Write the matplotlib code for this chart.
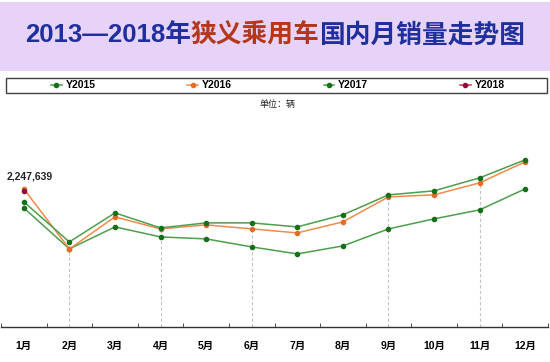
import numpy as np
import matplotlib
matplotlib.use("Agg")
import matplotlib.pyplot as plt
from matplotlib.patches import Rectangle

plt.rcParams['font.family'] = ['Liberation Sans', 'Noto Sans CJK SC', 'DejaVu Sans']

months = ["1月", "2月", "3月", "4月", "5月", "6月", "7月", "8月", "9月", "10月", "11月", "12月"]
series_names = ["Y2015", "Y2016", "Y2017", "Y2018"]
y2015 = [1966700, 1289100, 1652700, 1487400, 1454400, 1322200, 1206500, 1338700, 1619600, 1784900, 1933700, 2280700]
y2016 = [2280700, 1289100, 1818000, 1619600, 1685800, 1619600, 1553500, 1735300, 2148500, 2181600, 2379900, 2727000]
y2017 = [2065900, 1404800, 1884100, 1636200, 1718800, 1718800, 1652700, 1851000, 2181600, 2247700, 2462500, 2760000]
y2018 = [2247639] + [np.nan] * 11
drop_months = ["2月", "4月", "6月", "9月", "11月"]

title_parts = [("2013—2018年", "#1f2f9e"), ("狭义乘用车", "#b5361a"), ("国内月销量走势图", "#1f2f9e")]
unit_text = "单位：辆"

W, H = 550, 362
fig = plt.figure(figsize=(W / 100, H / 100), dpi=100)
fig.patch.set_facecolor("white")

# lavender title band
fig.patches.append(Rectangle((0, 1 - 71 / H), 1, 69 / H, transform=fig.transFigure,
                             facecolor="#E6D3F7", edgecolor="none", zorder=0))

# multi-colour title
fig.canvas.draw()
renderer = fig.canvas.get_renderer()
fs_title = 18.5
texts = []
x0 = 22 / W
y0 = 1 - 35 / H
prev = None
for s, c in title_parts:
    if prev is None:
        t = fig.text(x0, y0, s, color=c, fontsize=fs_title, fontweight="bold", va="center", ha="left")
    else:
        t = fig.text(0, 0, s, color=c, fontsize=fs_title, fontweight="bold", va="center", ha="left")
        bb = prev.get_window_extent(renderer)
        t.set_position((bb.x1 / W, y0))
    fig.canvas.draw()
    prev = t
    texts.append(t)
total_left = texts[0].get_window_extent(renderer).x0
total_right = texts[-1].get_window_extent(renderer).x1
shift = (W / 2 - (total_left + total_right) / 2) / W
for t in texts:
    xx, yy = t.get_position()
    t.set_position((xx + shift, yy))

# axes
ax = fig.add_axes([1 / W, 1 - 327 / H, 547 / W, 212 / H])
ax.set_facecolor("none")
x = np.arange(len(months))

green_line, green_mk = "#4c9f4c", "#16701a"
orange_line, orange_mk = "#f28a4b", "#e86b25"
red_line, red_mk = "#d6304a", "#8a1040"

di = [months.index(m) for m in drop_months]
ax.vlines(x[di], 0, np.array(y2016)[di], colors="#c4c4c4", linestyles=(0, (3, 2)), lw=0.8, zorder=1)

l15, = ax.plot(x, y2015, color=green_line, lw=1.1, marker="o", ms=3, mfc=green_mk, mec=green_mk, zorder=3, clip_on=False)
l16, = ax.plot(x, y2016, color=orange_line, lw=1.1, marker="o", ms=3, mfc=orange_mk, mec=orange_mk, zorder=3, clip_on=False)
l17, = ax.plot(x, y2017, color=green_line, lw=1.1, marker="o", ms=3, mfc=green_mk, mec=green_mk, zorder=4, clip_on=False)
l18, = ax.plot(x, y2018, color=red_line, lw=1.1, marker="o", ms=3, mfc=red_mk, mec=red_mk, zorder=5, clip_on=False)

ax.annotate(f"{y2018[0]:,}", (x[0], y2018[0]), xytext=(4.5, 10.5), textcoords="offset points",
            ha="center", va="center", fontsize=7.5, fontweight="bold", color="#222222")

ax.set_xlim(-0.5, len(months) - 0.5)
ax.set_ylim(0, 3500000)
for s in ["top", "left", "right"]:
    ax.spines[s].set_visible(False)
ax.spines["bottom"].set_color("#333333")
ax.spines["bottom"].set_linewidth(1.0)
ax.set_yticks([])
ax.set_xticks(x)
ax.set_xticklabels(months, fontsize=7.5, fontweight="bold")
ax.tick_params(axis="x", which="major", length=0, pad=10)
ax.set_xticks(np.arange(-0.5, len(months)), minor=True)
ax.tick_params(axis="x", which="minor", length=3, direction="in", color="#333333")

# legend box
fig.patches.append(Rectangle((6 / W, 1 - 93 / H), 541 / W, 15 / H, transform=fig.transFigure,
                             facecolor="white", edgecolor="#404040", lw=1.0, zorder=1))
fig.legend([l15, l16, l17, l18], series_names, loc="center", bbox_to_anchor=(278 / W, 1 - 85.5 / H),
           ncol=4, frameon=False, prop={"weight": "bold", "size": 7.5},
           handlelength=1.0, handletextpad=0.4, columnspacing=8.8, borderpad=0)

fig.text(277 / W, 1 - 104 / H, unit_text, fontsize=6.5, ha="center", va="center", color="#222222")

fig.savefig("out.png", dpi=100)
